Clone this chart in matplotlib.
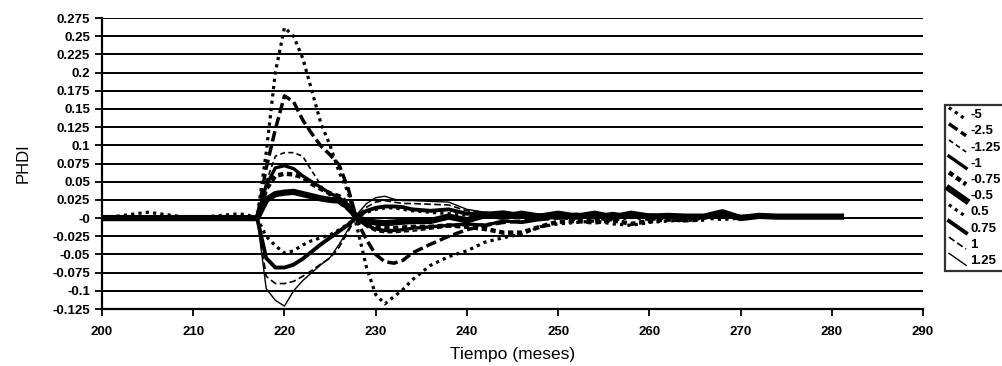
import numpy as np
import matplotlib
matplotlib.use("Agg")
import matplotlib.pyplot as plt
from matplotlib.lines import Line2D
from matplotlib.legend_handler import HandlerLine2D
from matplotlib.ticker import FuncFormatter

n = np.nan

# tiempo en meses (eje x compartido)
meses = [200, 205, 210, 215, 216, 217, 218, 219, 220, 221, 222, 223, 224, 225, 226, 227,
         228, 229, 230, 231, 232, 233, 234, 236, 238, 240, 242, 244, 246, 248, 250, 252,
         254, 256, 258, 260, 262, 264, 266, 268, 270, 272, 274, 276, 278, 281]

# PHDI por escenario
s_m5 = [0, 0.008, 0, 0.006, 0.004, 0, 0.09, 0.2, 0.262, 0.25, 0.22, 0.175, 0.13, 0.10, 0.063, 0.035,
        -0.015, -0.068, -0.105, -0.118, -0.108, -0.098, -0.085, -0.065, -0.053, -0.045, -0.033, -0.027,
        -0.022, -0.012, -0.008, -0.006, -0.004, -0.008, -0.01, -0.006, -0.004, -0.003, n, n, n, n, n, n, n, n]
s_m25 = [0, 0, 0, 0, 0, 0, 0.069, 0.122, 0.168, 0.16, 0.135, 0.116, 0.099, 0.087, 0.073, 0.04,
         -0.005, -0.03, -0.05, -0.06, -0.062, -0.058, -0.048, -0.036, -0.025, -0.016, -0.01, -0.006,
         -0.004, -0.002, 0, 0.003, 0, 0.004, 0.001, 0.002, 0.002, 0.001, 0.002, 0.006, 0.001, 0.002, n, n, n, n]
s_m125 = [0, 0, 0, 0, 0, 0, 0.05, 0.085, 0.09, 0.09, 0.085, 0.065, 0.045, 0.03, 0.02, 0.01,
          -0.003, -0.012, -0.018, -0.02, -0.02, -0.019, -0.018, -0.015, -0.012, -0.01, -0.008, -0.005,
          -0.004, -0.002, 0, 0.002, -0.002, 0.001, 0, 0.002, 0.001, n, n, n, n, n, n, n, n, n]
s_m1 = [0, 0, 0, 0, 0, 0, 0.045, 0.069, 0.072, 0.068, 0.058, 0.05, 0.042, 0.034, 0.028, 0.018,
        -0.002, -0.01, -0.015, -0.017, -0.017, -0.016, -0.014, -0.012, -0.01, -0.008, -0.01, -0.004,
        -0.006, -0.002, 0.004, 0.002, 0.005, 0.001, 0.004, 0.002, 0.003, 0.002, 0.003, 0.002, n, n, n, n, n, n]
s_m075 = [0, 0, 0, 0, 0, 0, 0.04, 0.058, 0.061, 0.06, 0.056, 0.047, 0.04, 0.034, 0.03, 0.02,
          0, -0.008, -0.012, -0.014, -0.014, -0.013, -0.012, -0.012, -0.01, -0.012, -0.015, -0.02,
          -0.02, -0.012, -0.005, -0.004, -0.006, -0.003, -0.008, -0.004, -0.002, -0.003, -0.002, n, n, n, n, n, n, n]
s_m05 = [0, 0, 0, 0, 0, 0, 0.025, 0.033, 0.035, 0.036, 0.033, 0.03, 0.027, 0.025, 0.024, 0.015,
         0, -0.004, -0.006, -0.007, -0.006, -0.005, -0.004, -0.004, 0.002, -0.003, 0.004, 0.002,
         0.006, 0.002, 0.006, 0.002, 0.006, 0.001, 0.006, 0.002, 0.003, 0.002, 0.002, 0.008, 0.0, 0.003,
         0.002, 0.002, 0.002, 0.002]
s_p05 = [0, 0, 0, 0, 0, 0, -0.025, -0.038, -0.048, -0.045, -0.037, -0.031, -0.027, -0.023, -0.016, -0.008,
         0.002, 0.008, 0.012, 0.014, 0.014, 0.012, 0.01, 0.008, 0.006, 0.004, 0.002, 0, 0.001, -0.001,
         0.001, -0.002, 0, -0.003, 0.001, -0.002, 0, -0.004, 0.0, -0.002, 0.0, n, n, n, n, n]
s_p075 = [0, 0, 0, 0, 0, 0, -0.055, -0.068, -0.068, -0.064, -0.056, -0.046, -0.036, -0.027, -0.018, -0.009,
          0.003, 0.01, 0.014, 0.016, 0.016, 0.015, 0.012, 0.01, 0.012, 0.006, 0.006, 0.008, 0.004, 0.004,
          0.003, 0.005, 0.002, 0.006, 0.002, 0.004, 0.002, 0.003, 0.002, 0.004, 0.002, 0.003, 0.002, 0.002, n, n]
s_p1 = [0, 0, 0, 0, 0, 0, -0.08, -0.09, -0.09, -0.087, -0.08, -0.072, -0.063, -0.055, -0.04, -0.018,
        0.004, 0.015, 0.022, 0.024, 0.022, 0.02, 0.02, 0.019, 0.018, 0.01, 0.008, 0.006, 0.005, 0.003,
        0.002, 0.004, 0.001, 0.003, 0.002, 0.001, 0.002, 0.001, 0.002, n, n, n, n, n, n, n]
s_p125 = [0, 0, 0, 0, 0, 0, -0.097, -0.113, -0.121, -0.1, -0.086, -0.075, -0.064, -0.054, -0.036, -0.015,
          0.006, 0.02, 0.028, 0.03, 0.026, 0.024, 0.024, 0.023, 0.022, 0.012, 0.008, 0.006, 0.006, 0.004,
          0.003, 0.005, 0.002, 0.004, 0.003, 0.002, n, n, n, n, n, n, n, n, n, n]

etiquetas = ["-5", "-2.5", "-1.25", "-1", "-0.75", "-0.5", "0.5", "0.75", "1", "1.25"]
series = [s_m5, s_m25, s_m125, s_m1, s_m075, s_m05, s_p05, s_p075, s_p1, s_p125]

# estilo de linea de cada escenario (todo en negro)
estilos = [
    dict(ls=(0, (1, 1.3)), lw=2.3),
    dict(ls=(0, (3, 1.2)), lw=2.5),
    dict(ls=(0, (3, 2)), lw=1.2),
    dict(ls="-", lw=2.4),
    dict(ls=(0, (1.2, 0.8)), lw=3.2),
    dict(ls="-", lw=4.5),
    dict(ls=(0, (1, 1.3)), lw=2.3),
    dict(ls="-", lw=2.8),
    dict(ls=(0, (4, 2)), lw=1.2),
    dict(ls="-", lw=1.0),
]


# leyenda con la linea en diagonal, como en Excel
class Diagonal(HandlerLine2D):
    def create_artists(self, legend, orig, xd, yd, w, h, fs, trans):
        ln = Line2D([-xd, -xd + w], [-yd + h + 1, -yd - 1])
        self.update_prop(ln, orig, legend)
        ln.set_transform(trans)
        return [ln]


fig = plt.figure(figsize=(10.02, 3.66), dpi=100)
ax = fig.add_axes([0.1018, 0.1557, 0.8194, 0.795])

x = np.array(meses, dtype=float)
for lab, s, st in zip(etiquetas, series, estilos):
    ax.plot(x, np.array(s, dtype=float), color="black", label=lab, **st)

ax.set_xlim(200, 290)
ax.set_ylim(-0.125, 0.275)
ax.set_xticks(np.arange(200, 291, 10))
ax.set_yticks(np.arange(-0.125, 0.2751, 0.025))
ax.yaxis.set_major_formatter(FuncFormatter(lambda v, p: "%g" % round(v, 3)))
ax.grid(axis="y", color="black", lw=1.4)
ax.set_axisbelow(True)
for sp in ["top", "right"]:
    ax.spines[sp].set_visible(False)
for sp in ["left", "bottom"]:
    ax.spines[sp].set_linewidth(1.6)

fuente = "Liberation Sans"
ax.tick_params(direction="out", length=5, width=1.3, color="black")
ax.tick_params(axis="x", pad=7)
for t in ax.get_xticklabels() + ax.get_yticklabels():
    t.set_fontfamily(fuente)
    t.set_fontweight("bold")
    t.set_fontsize(9.5)

ax.set_xlabel("Tiempo (meses)", fontfamily=fuente, fontsize=12.5, labelpad=7)
ax.set_ylabel("PHDI", fontfamily=fuente, fontsize=12, labelpad=16)

leg = fig.legend(loc="upper left", bbox_to_anchor=(945 / 1002, 1 - 105 / 366),
                 bbox_transform=fig.transFigure, frameon=True, fancybox=False,
                 handlelength=1.3, handletextpad=0.3, labelspacing=0.3, borderpad=0.3,
                 borderaxespad=0, prop=dict(family=fuente, weight="bold", size=9.5),
                 handler_map={Line2D: Diagonal()})
leg.get_frame().set_edgecolor("black")
leg.get_frame().set_linewidth(1.6)

plt.savefig("out.png", dpi=100)
